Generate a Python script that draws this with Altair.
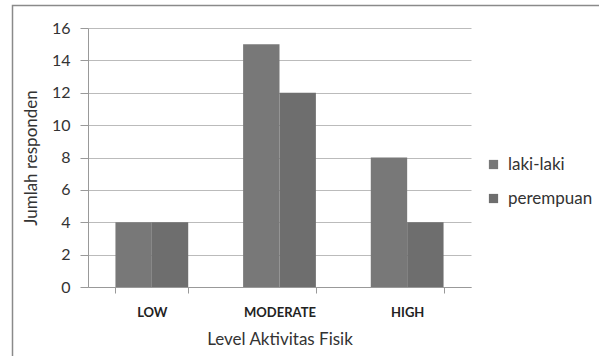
import altair as alt
import pandas as pd

categories = ["LOW", "MODERATE", "HIGH"]
laki_laki = [4, 15, 8]
perempuan = [4, 12, 4]
series = ["laki-laki", "perempuan"]
y_ticks = [0, 2, 4, 6, 8, 10, 12, 14, 16]

rows = []
for c, a, b in zip(categories, laki_laki, perempuan):
    rows.append({"level": c, "jenis": series[0], "jumlah": a})
    rows.append({"level": c, "jenis": series[1], "jumlah": b})
df = pd.DataFrame(rows)

FONT = "Lato"

bars = alt.Chart(df).mark_bar().encode(
    x=alt.X("level:N", sort=categories,
            scale=alt.Scale(paddingInner=0.43, paddingOuter=0.215),
            axis=alt.Axis(title="Level Aktivitas Fisik", labelAngle=0,
                          labelFont=FONT, labelFontSize=13, labelFontWeight="bold",
                          labelColor="#222222", labelPadding=13,
                          tickBand="extent", tickSize=6, tickColor="#999999",
                          domainColor="#999999", grid=False,
                          titleFont=FONT, titleFontSize=17, titleFontWeight="normal",
                          titleColor="#333333", titlePadding=12)),
    xOffset=alt.XOffset("jenis:N", sort=series),
    y=alt.Y("jumlah:Q", scale=alt.Scale(domain=[0, 16]),
            axis=alt.Axis(title="Jumlah responden", values=y_ticks,
                          labelFont=FONT, labelFontSize=16, labelColor="#333333",
                          labelPadding=10, tickSize=8, tickColor="#999999",
                          domainColor="#999999", gridColor="#bbbbbb",
                          titleFont=FONT, titleFontSize=17, titleFontWeight="normal",
                          titleColor="#333333", titlePadding=11)),
    color=alt.Color("jenis:N", sort=series,
                    scale=alt.Scale(domain=series, range=["#787878", "#6e6e6e"]),
                    legend=alt.Legend(title=None, orient="none", legendX=397, legendY=128,
                                      symbolType="square", symbolSize=85,
                                      labelFont=FONT, labelFontSize=17, labelColor="#333333",
                                      rowPadding=16, labelOffset=6)),
)

border = alt.Chart(pd.DataFrame({"a": [0]})).mark_rect(
    fill=None, stroke="#8a8a8a", strokeWidth=1.5
).encode(x=alt.value(-75.5), x2=alt.value(540), y=alt.value(-22.5), y2=alt.value(360))

chart = alt.layer(border, bars).properties(
    width=383, height=259,
    autosize=alt.AutoSizeParams(type="none"),
    padding={"left": 88, "top": 28, "right": 128, "bottom": 69},
    background="white",
).configure_view(stroke=None)

chart.save("out.html", embed_options={"renderer": "svg", "actions": False})
